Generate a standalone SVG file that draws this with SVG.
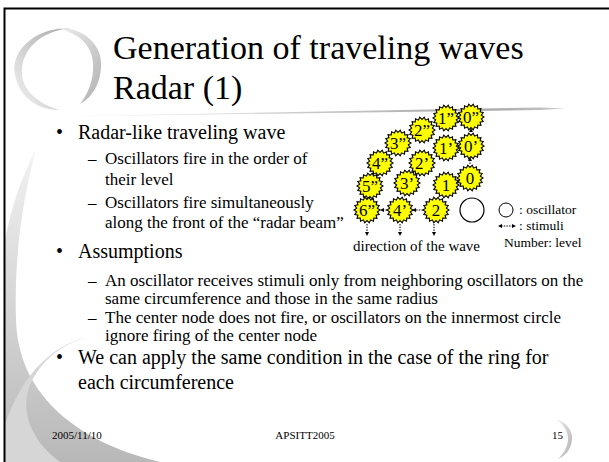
<svg xmlns="http://www.w3.org/2000/svg" width="609" height="462" viewBox="0 0 609 462">
<defs>
<style>
text{font-family:"Liberation Serif","Times New Roman",serif;fill:#000}
.title{font-size:34px}
.b1{font-size:20px}
.b2{font-size:17px}
.lbl{font-size:17px;text-anchor:middle}
.leg{font-size:13.5px}
.foot{font-size:11px}
.sun{fill:#ffff00;stroke:#000;stroke-width:1.1;stroke-linejoin:miter}
.dot{stroke:#000;stroke-width:1;stroke-dasharray:1.5 1.2;fill:none}
.ah{fill:#000}
</style>
<polygon id="star" points="13,0 10.34,1.82 12.22,4.45 9.09,5.25 9.96,8.36 6.75,8.04 6.5,11.26 3.59,9.87 2.26,12.8 0,10.5 -2.26,12.8 -3.59,9.87 -6.5,11.26 -6.75,8.04 -9.96,8.36 -9.09,5.25 -12.22,4.45 -10.34,1.82 -13,0 -10.34,-1.82 -12.22,-4.45 -9.09,-5.25 -9.96,-8.36 -6.75,-8.04 -6.5,-11.26 -3.59,-9.87 -2.26,-12.8 0,-10.5 2.26,-12.8 3.59,-9.87 6.5,-11.26 6.75,-8.04 9.96,-8.36 9.09,-5.25 12.22,-4.45 10.34,-1.82"/>
<linearGradient id="gSep" x1="0" y1="0" x2="1" y2="0">
<stop offset="0" stop-color="#ffffff"/><stop offset="0.85" stop-color="#a8a8a8"/><stop offset="1" stop-color="#c8c8c8"/>
</linearGradient>
<linearGradient id="gSw" x1="0" y1="0" x2="0" y2="1">
<stop offset="0" stop-color="#f2f2f2"/><stop offset="1" stop-color="#b8b8b8"/>
</linearGradient>
<linearGradient id="gCr" x1="0" y1="0" x2="1" y2="1">
<stop offset="0" stop-color="#f0f0f0"/><stop offset="1" stop-color="#b0b0b0"/>
</linearGradient>
<linearGradient id="gCr2" x1="0" y1="1" x2="1" y2="0">
<stop offset="0" stop-color="#f4f4f4"/><stop offset="1" stop-color="#a8a8a8"/>
</linearGradient>
</defs>
<rect width="609" height="462" fill="#fff"/>
<g id="decor">
<path d="M5,240 C12,205 22,175 36,150 C22,200 14,260 16,320 C18,390 70,440 160,462 L5,462 Z" fill="url(#gSw)"/>
<path d="M85,338 C55,345 22,372 5,425 L5,462 L60,462 C30,440 20,410 30,385 C40,362 60,345 85,338 Z" fill="#d6d6d6"/>
<path d="M70,28 C30,28 10,55 15,75 C20,100 40,110 60,110 C45,106 24,95 22,75 C20,52 38,32 70,28 Z" fill="url(#gCr2)"/>
<path d="M55,28 C80,26 100,42 101,62 C102,82 92,98 80,104 C88,94 94,80 93,63 C92,45 78,32 55,28 Z" fill="url(#gCr)"/>
<path d="M25,117 L540,107.5 L565,108.5 L540,110 Z" fill="url(#gSep)"/>
<path d="M556,419 C568,423 573,432 572,440 C571,450 565,456 558,459 C564,453 568,446 568,439 C568,431 563,424 556,419 Z" fill="url(#gCr)"/>
<path d="M4.5,462 L4.5,8.5 L609,8.5" fill="none" stroke="#000" stroke-width="2"/>
</g>
<g id="title">
<text class="title" x="113" y="59">Generation of traveling waves</text>
<text class="title" x="113" y="99">Radar (1)</text>
</g>
<g id="body">
<text class="b1" x="56" y="139">•</text>
<text class="b1" x="78" y="139">Radar-like traveling wave</text>
<text class="b2" x="88" y="164">–</text>
<text class="b2" x="105" y="164">Oscillators fire in the order of</text>
<text class="b2" x="105" y="185">their level</text>
<text class="b2" x="88" y="208">–</text>
<text class="b2" x="105" y="208">Oscillators fire simultaneously</text>
<text class="b2" x="105" y="228">along the front of the “radar beam”</text>
<text class="b1" x="56" y="258">•</text>
<text class="b1" x="78" y="258">Assumptions</text>
<text class="b2" x="88" y="286">–</text>
<text class="b2" x="105" y="286">An oscillator receives stimuli only from neighboring oscillators on the</text>
<text class="b2" x="105" y="304">same circumference and those in the same radius</text>
<text class="b2" x="88" y="323">–</text>
<text class="b2" x="105" y="323">The center node does not fire, or oscillators on the innermost circle</text>
<text class="b2" x="105" y="341">ignore firing of the center node</text>
<text class="b1" x="56" y="364">•</text>
<text class="b1" x="78" y="364">We can apply the same condition in the case of the ring for</text>
<text class="b1" x="78" y="389">each circumference</text>
</g>
<g id="footer">
<text class="foot" x="52" y="439">2005/11/10</text>
<text class="foot" x="305" y="439" text-anchor="middle">APSITT2005</text>
<text class="foot" x="552" y="439">15</text>
</g>
<g id="connectors">
<path class="dot" d="M423,210 L415,210"/><polygon class="ah" points="412,210 416,208 416,212"/>
<path class="dot" d="M387,210 L383,210"/><polygon class="ah" points="380,210 384,208 384,212"/>
<path class="dot" d="M470,164 L470,160"/><polygon class="ah" points="470,157 468,161 472,161"/>
<polygon class="ah" points="471,128 469,132 473,132"/>
<path class="dot" d="M367,224 L367,232"/><polygon class="ah" points="367,236 365,232 369,232"/>
<path class="dot" d="M400,224 L400,232"/><polygon class="ah" points="400,236 398,232 402,232"/>
<path class="dot" d="M434,224 L434,232"/><polygon class="ah" points="434,236 432,232 436,232"/>
</g>
<g id="n-0pp"><use href="#star" x="471" y="117" class="sun"/><text class="lbl" x="471" y="123">0”</text></g>
<g id="n-1pp"><use href="#star" x="446" y="118" class="sun"/><text class="lbl" x="446" y="124">1”</text></g>
<g id="n-2pp"><use href="#star" x="422" y="130" class="sun"/><text class="lbl" x="422" y="136">2”</text></g>
<g id="n-3pp"><use href="#star" x="398" y="143" class="sun"/><text class="lbl" x="398" y="149">3”</text></g>
<g id="n-4pp"><use href="#star" x="380" y="163" class="sun"/><text class="lbl" x="380" y="169">4”</text></g>
<g id="n-5pp"><use href="#star" x="370" y="186" class="sun"/><text class="lbl" x="370" y="192">5”</text></g>
<g id="n-6pp"><use href="#star" x="367" y="210" class="sun"/><text class="lbl" x="367" y="216">6”</text></g>
<g id="n-0p"><use href="#star" x="471" y="146" class="sun"/><text class="lbl" x="471" y="152">0’</text></g>
<g id="n-1p"><use href="#star" x="446" y="148" class="sun"/><text class="lbl" x="446" y="154">1’</text></g>
<g id="n-2p"><use href="#star" x="422" y="163" class="sun"/><text class="lbl" x="422" y="169">2’</text></g>
<g id="n-3p"><use href="#star" x="407" y="183" class="sun"/><text class="lbl" x="407" y="189">3’</text></g>
<g id="n-4p"><use href="#star" x="400" y="210" class="sun"/><text class="lbl" x="400" y="216">4’</text></g>
<g id="n-0"><use href="#star" x="470" y="178" class="sun"/><text class="lbl" x="470" y="184">0</text></g>
<g id="n-1"><use href="#star" x="446" y="185" class="sun"/><text class="lbl" x="446" y="191">1</text></g>
<g id="n-2"><use href="#star" x="436" y="210" class="sun"/><text class="lbl" x="436" y="216">2</text></g>
<g id="n-center"><circle cx="472" cy="210" r="12" fill="#fff" stroke="#000" stroke-width="1.2"/></g>
<g id="wave-label"><text class="leg" x="353" y="251" style="font-size:15px">direction of the wave</text></g>
<g id="legend">
<circle cx="506" cy="210" r="7" fill="#fff" stroke="#000" stroke-width="1"/>
<text class="leg" x="519" y="214">: oscillator</text>
<path class="dot" d="M501,226 L513,226"/>
<polygon class="ah" points="498,226 502,224 502,228"/>
<polygon class="ah" points="516,226 512,224 512,228"/>
<text class="leg" x="519" y="230">: stimuli</text>
<text class="leg" x="504" y="247">Number: level</text>
</g>
</svg>
